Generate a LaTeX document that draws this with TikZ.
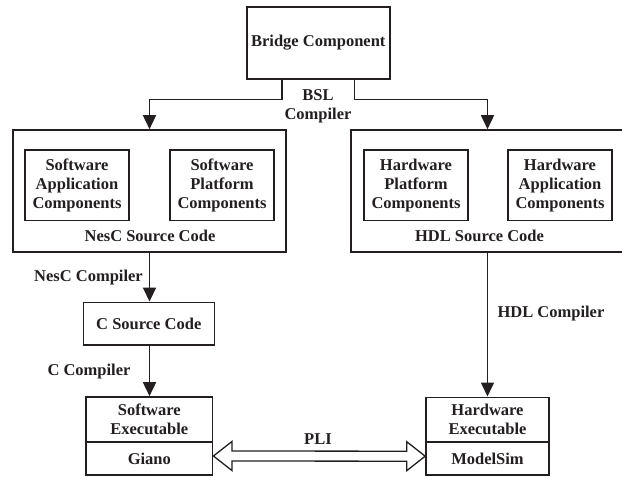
\documentclass[tikz,border=0pt]{standalone}
\usepackage{fontspec}
\setmainfont{Liberation Serif}
\usetikzlibrary{arrows.meta,calc}
\definecolor{ink}{HTML}{231F20}
\begin{document}
\begin{tikzpicture}[x=1pt,y=-1pt,
  every node/.style={font=\fontsize{16.5}{19}\selectfont\bfseries, text=ink, inner sep=0pt},
  box/.style={draw=ink, line width=1.6pt, align=center},
  lbl/.style={align=center},
  conn/.style={draw=ink, line width=1.6pt, -{Triangle[length=14pt,width=13pt]}},
]
\clip (0,0) rectangle (622,477);
% top
\node[box, minimum width=143pt, minimum height=72pt] (bridge) at (318.3,43) {Bridge Component};
% outer boxes
\node[box, minimum width=273pt, minimum height=122pt] (nesc) at (149.5,191) {};
\node[box, minimum width=273pt, minimum height=122pt] (hdl) at (487.5,191) {};
% inner boxes
\node[box, minimum width=104pt, minimum height=70.5pt] (swapp) at (77,185.3) {Software\\Application\\Components};
\node[box, minimum width=104pt, minimum height=70.5pt] (swplat) at (222,185.3) {Software\\Platform\\Components};
\node[box, minimum width=104pt, minimum height=70.5pt] (hwplat) at (416,185.3) {Hardware\\Platform\\Components};
\node[box, minimum width=104pt, minimum height=70.5pt] (hwapp) at (560,185.3) {Hardware\\Application\\Components};
\node (nesclbl) at (150,236) {NesC Source Code};
\node (hdllbl) at (479.5,236) {HDL Source Code};
% C source
\node[box, minimum width=131pt, minimum height=42.7pt] (csrc) at (148.8,323.7) {C Source Code};
% executables
\node[box, minimum width=126.7pt, minimum height=45pt] (swexe) at (149.3,419.5) {Software\\Executable};
\node[box, minimum width=126.7pt, minimum height=33pt] (giano) at (149.3,458.5) {Giano};
\node[box, minimum width=123pt, minimum height=45pt] (hwexe) at (487.5,419.8) {Hardware\\Executable};
\node[box, minimum width=123pt, minimum height=33pt] (modelsim) at (487.5,458.7) {ModelSim};
% labels
\node[lbl] (bsl) at (318,106.5) {BSL\\Compiler};
\node (nesccomp) at (88.5,277.7) {NesC Compiler};
\node (ccomp) at (89,371.7) {C Compiler};
\node (hdlcomp) at (551,313.3) {HDL Compiler};
% connectors
\draw[conn] ($(bridge.south west)+(36,0)$) -- ++(0,19.7) -| (nesc.north);
\draw[conn] ($(bridge.south east)+(-36,0)$) -- ++(0,19.7) -| (hdl.north);
\draw[conn] (nesc.south) -- (nesc.south |- csrc.north);
\draw[conn] (csrc.south -| nesc.south) -- (nesc.south |- swexe.north);
\draw[conn] (hdl.south) -- (hdl.south |- hwexe.north);
% PLI double arrow
\coordinate (pliL) at ($(giano.east)+(0,-2.5)$);
\coordinate (pliR) at ($(modelsim.west)+(0,-2.5)$);
\draw[draw=ink, fill=white, line width=1.3pt, line join=miter]
  (pliL) -- ++(18.5,-14.5) -- ++(0,9.5) -- ($(pliR)+(-18.5,-5)$) -- ++(0,-9.5)
  -- (pliR) -- ++(-18.5,14.5) -- ++(0,-9.5) -- ($(pliL)+(18.5,5)$) -- ++(0,9.5) -- cycle;
\node (pli) at (318,439.3) {PLI};
\end{tikzpicture}
\end{document}
